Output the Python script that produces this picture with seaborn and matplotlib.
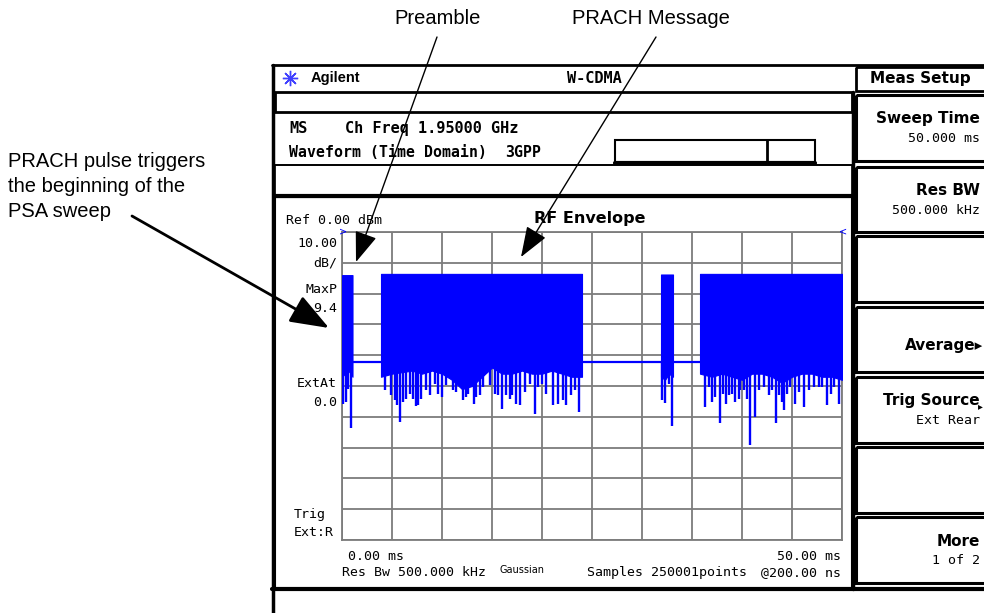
import numpy as np
import pandas as pd
import seaborn as sns
import matplotlib.pyplot as plt
from matplotlib.patches import Rectangle

# --- trace data (time in ms, level in dBm) ---
burst_start = [0.0, 3.9, 31.9, 35.8]
burst_end = [1.05, 24.0, 33.1, 50.0]
burst_top = [-14.0, -13.6, -13.8, -13.6]
floor_level = -42.2

# lower edge of the solid part of each burst
pre1_t = [0.0, 0.3, 0.6, 0.9, 1.05]
pre1_low = [-47, -46, -45, -46, -47]
msg1_t = [3.9, 5, 6, 7, 8, 9, 10, 11, 12, 13, 14, 15, 16, 17, 18, 19, 20, 21, 22, 23, 24.0]
msg1_low = [-47, -46, -45.5, -45, -46, -45, -46, -48, -51, -50, -47, -44, -46, -46, -45, -46, -46, -45, -46, -47, -47]
pre2_t = [31.9, 32.3, 32.7, 33.1]
pre2_low = [-47, -48, -46, -47]
msg2_t = [35.8, 37, 38, 39, 40, 41, 42, 43, 44, 45, 46, 47, 48, 49, 50]
msg2_low = [-46, -47, -46, -47, -48, -46, -46, -47, -49, -47, -46, -46, -47, -47, -48]

# deep dips below the solid part
pre1_dip_t = [0.1, 0.43, 0.6, 0.87]
pre1_dip_db = [-55.8, -55.2, -51.0, -63.6]
msg1_dip_t = [4.33, 4.93, 5.27, 5.5, 5.8, 6.1, 6.43, 6.77, 7.1, 7.37, 7.6, 7.93, 8.37, 8.77,
              9.27, 9.6, 10.0, 10.43, 11.1, 11.43, 12.1, 12.37, 12.6, 13.17, 13.43, 13.77,
              14.1, 14.77, 15.27, 15.6, 16.0, 16.43, 16.77, 17.0, 17.43, 17.77, 18.33, 18.77,
              19.27, 19.6, 20.0, 20.43, 21.1, 21.6, 22.1, 22.43, 22.93, 23.33, 23.67]
msg1_dip_db = [-51.2, -53.0, -54.7, -56.1, -61.7, -55.2, -54.1, -52.5, -54.1, -56.6, -56.3,
               -54.1, -51.4, -53.0, -49.5, -52.5, -53.6, -49.8, -51.4, -52.0, -54.7, -53.6,
               -52.5, -55.8, -53.6, -53.0, -50.3, -49.8, -52.5, -53.0, -57.6, -53.0, -54.1,
               -53.0, -55.8, -56.3, -52.0, -49.2, -59.2, -50.3, -49.2, -52.5, -56.3, -55.8,
               -54.7, -56.3, -53.0, -51.4, -58.5]
pre2_dip_t = [32.0, 32.3, 32.7, 33.0]
pre2_dip_db = [-54.7, -55.5, -49.2, -63.0]
msg2_dip_t = [36.33, 36.67, 37.0, 37.33, 37.77, 38.07, 38.4, 38.67, 39.0, 39.33, 39.67, 39.83,
              40.23, 40.5, 40.83, 41.27, 41.67, 42.17, 42.67, 43.0, 43.4, 43.67, 44.0, 44.17,
              44.5, 44.83, 45.27, 45.67, 46.17, 46.67, 47.17, 47.67, 48.0, 48.5, 48.9, 49.17, 49.67]
msg2_dip_db = [-56.8, -50.3, -55.2, -53.6, -62.1, -52.5, -55.8, -53.0, -52.5, -55.2, -54.1,
               -51.4, -51.4, -54.1, -69.3, -60.1, -51.4, -50.3, -53.0, -51.4, -62.1, -53.0,
               -55.2, -57.9, -52.5, -50.3, -55.8, -52.0, -56.8, -51.4, -50.3, -50.3, -50.3,
               -56.3, -52.5, -50.3, -55.8]

# idle carrier between bursts
floor_seg = [0, 0, 1, 1, 2, 2]
floor_t = [1.05, 3.9, 24.0, 31.9, 33.1, 35.8]

x_ticks = [0, 5, 10, 15, 20, 25, 30, 35, 40, 45, 50]
y_ticks = [0, -10, -20, -30, -40, -50, -60, -70, -80, -90, -100]

softkeys = ["Sweep Time", "Res BW", "", "Average\u25b8", "Trig Source", "", "More"]
softkey_values = ["50.000 ms", "500.000 kHz", "", "", "Ext Rear", "", "1 of 2"]

sns.set_theme(style="white")
plt.rcParams['font.family'] = ['DejaVu Sans']
plt.rcParams['text.color'] = 'black'
mono = 'DejaVu Sans Mono'
arial = 'Liberation Sans'
blue = '#0000ff'
grid_col = '#7c7c7c'

fig = plt.figure(figsize=(9.84, 6.13), dpi=100)
fig.patch.set_facecolor('white')

# trace area (342..842 px wide, 232..540 px high)
ax = fig.add_axes([342 / 984, (613 - 540) / 613, 500 / 984, 308 / 613])
ax.set_xlim(0, 50)
ax.set_ylim(-100, 0)
ax.set_xticks(x_ticks)
ax.set_yticks(y_ticks)
ax.tick_params(length=0, labelbottom=False, labelleft=False)
ax.grid(True, color=grid_col, lw=1.3)
for s in ax.spines.values():
    s.set_color(grid_col)
    s.set_linewidth(1.3)

floor_df = pd.DataFrame({'t': floor_t, 'db': [floor_level] * len(floor_t), 'seg': floor_seg})
sns.lineplot(data=floor_df, x='t', y='db', units='seg', estimator=None,
             color=blue, lw=1.6, ax=ax, legend=False)

bursts = [(pre1_t, pre1_low, pre1_dip_t, pre1_dip_db),
          (msg1_t, msg1_low, msg1_dip_t, msg1_dip_db),
          (pre2_t, pre2_low, pre2_dip_t, pre2_dip_db),
          (msg2_t, msg2_low, msg2_dip_t, msg2_dip_db)]
for i, (bt, blow, dt, ddb) in enumerate(bursts):
    ax.fill_between(bt, blow, burst_top[i], color=blue, lw=0.8, edgecolor=blue, zorder=3)
    ax.vlines(dt, floor_level, ddb, color=blue, lw=1.7, zorder=3)
ax.set_xlabel('')
ax.set_ylabel('')

# overlay in pixel coordinates for the instrument frame and notes
ov = fig.add_axes([0, 0, 1, 1], zorder=5)
ov.set_xlim(0, 984)
ov.set_ylim(613, 0)
ov.axis('off')

k = 'black'
ov.plot([273, 273], [65, 613], color=k, lw=2.5)
ov.plot([272, 984], [65, 65], color=k, lw=2)
ov.add_patch(Rectangle((275, 92), 577, 20, fill=False, ec=k, lw=2))
ov.plot([275, 852], [165, 165], color=k, lw=1.2)
ov.add_patch(Rectangle((275, 165), 577, 31, fill=False, ec=k, lw=1.2))
ov.plot([275, 852], [196, 196], color=k, lw=3)
ov.add_patch(Rectangle((275, 197), 577, 392, fill=False, ec=k, lw=1.5))
ov.plot([272, 984], [589, 589], color=k, lw=3)
ov.plot([853, 853], [92, 589], color=k, lw=2.5)
ov.add_patch(Rectangle((615, 140), 200, 23, fill=False, ec=k, lw=1.5))
ov.plot([615, 815], [163, 163], color=k, lw=3)
ov.plot([767, 767], [140, 163], color=k, lw=2)

# header
ov.plot(290, 78, marker=(8, 2, 0), ms=11, color='#4040ff', mew=1)
ov.text(311, 78, "Agilent", fontsize=10.5, fontweight='bold', family=arial, va='center')
ov.text(594, 83, "W-CDMA", fontsize=11, fontweight='bold', family=mono, va='baseline', ha='center')
ov.text(289, 133, "MS", fontsize=11, fontweight='bold', family=mono, va='baseline')
ov.text(345, 133, "Ch Freq 1.95000 GHz", fontsize=11, fontweight='bold', family=mono, va='baseline')
ov.text(289, 157, "Waveform (Time Domain)", fontsize=10.7, fontweight='bold', family=mono, va='baseline')
ov.text(505, 157, "3GPP", fontsize=10.7, fontweight='bold', family=mono, va='baseline')

# softkeys
ov.add_patch(Rectangle((856, 67), 130, 24, fill=False, ec=k, lw=2))
ov.text(920, 79, "Meas Setup", fontsize=11, fontweight='bold', va='center', ha='center')
key_top = [95, 167, 236, 307, 377, 447, 517]
key_bot = [161, 232, 302, 372, 443, 513, 583]
for i in range(len(softkeys)):
    ov.add_patch(Rectangle((856, key_top[i]), 130, key_bot[i] - key_top[i], fill=False, ec=k, lw=2.2))
    mid = (key_top[i] + key_bot[i]) / 2
    if softkey_values[i]:
        ov.text(980, mid - 9, softkeys[i], fontsize=11, fontweight='bold', va='center', ha='right')
        ov.text(980, mid + 11, softkey_values[i], fontsize=9.5, family=mono, va='center', ha='right')
    elif softkeys[i]:
        ov.text(983, mid + 6, softkeys[i], fontsize=11, fontweight='bold', va='center', ha='right')
ov.text(983, 406, "\u25b8", fontsize=7, va='center', ha='right')

# labels around the trace
ov.text(286, 224, "Ref 0.00 dBm", fontsize=9.5, family=mono, va='baseline')
ov.text(590, 218, "RF Envelope", fontsize=11.5, fontweight='bold', va='center', ha='center')
left_lab = [("10.00", 243), ("dB/", 262), ("MaxP", 289), ("9.4", 308), ("ExtAt", 383), ("0.0", 402)]
for txt, yy in left_lab:
    ov.text(337, yy + 4, txt, fontsize=9.5, family=mono, va='baseline', ha='right')
ov.text(294, 518, "Trig", fontsize=9.5, family=mono, va='baseline')
ov.text(294, 536, "Ext:R", fontsize=9.5, family=mono, va='baseline')
ov.text(348, 560, "0.00 ms", fontsize=9.5, family=mono, va='baseline')
ov.text(841, 560, "50.00 ms", fontsize=9.5, family=mono, va='baseline', ha='right')
ov.text(342, 576, "Res Bw 500.000 kHz", fontsize=9.5, family=mono, va='baseline')
ov.text(500, 573, "Gaussian", fontsize=7, va='baseline')
ov.text(587, 576, "Samples 250001points", fontsize=9.5, family=mono, va='baseline')
ov.text(841, 576, "@200.00 ns", fontsize=9.5, family=mono, va='baseline', ha='right')
ov.text(343, 231, ">", fontsize=7, color=blue, va='center', ha='center')
ov.text(843, 231, "<", fontsize=7, color=blue, va='center', ha='center')

# callouts
ov.text(438, 18, "Preamble", fontsize=14.5, family=arial, va='center', ha='center')
ov.text(651, 18, "PRACH Message", fontsize=14.5, family=arial, va='center', ha='center')
note_lines = ["PRACH pulse triggers", "the beginning of the", "PSA sweep"]
note_base = [167, 192, 217]
for txt, yy in zip(note_lines, note_base):
    ov.text(8, yy, txt, fontsize=14.5, family=arial, va='baseline')
ov.annotate('', xy=(356, 262), xytext=(437, 37),
            arrowprops=dict(arrowstyle='-|>,head_length=1.9,head_width=0.7', color=k, lw=1,
                            shrinkA=0, shrinkB=0, mutation_scale=10))
ov.annotate('', xy=(521, 257), xytext=(656, 37),
            arrowprops=dict(arrowstyle='-|>,head_length=1.9,head_width=0.7', color=k, lw=1,
                            shrinkA=0, shrinkB=0, mutation_scale=10))
ov.annotate('', xy=(329, 328), xytext=(132, 216),
            arrowprops=dict(arrowstyle='-|>,head_length=2.4,head_width=0.9', color=k, lw=2,
                            shrinkA=0, shrinkB=0, mutation_scale=10))

fig.savefig('out.png', dpi=100)
